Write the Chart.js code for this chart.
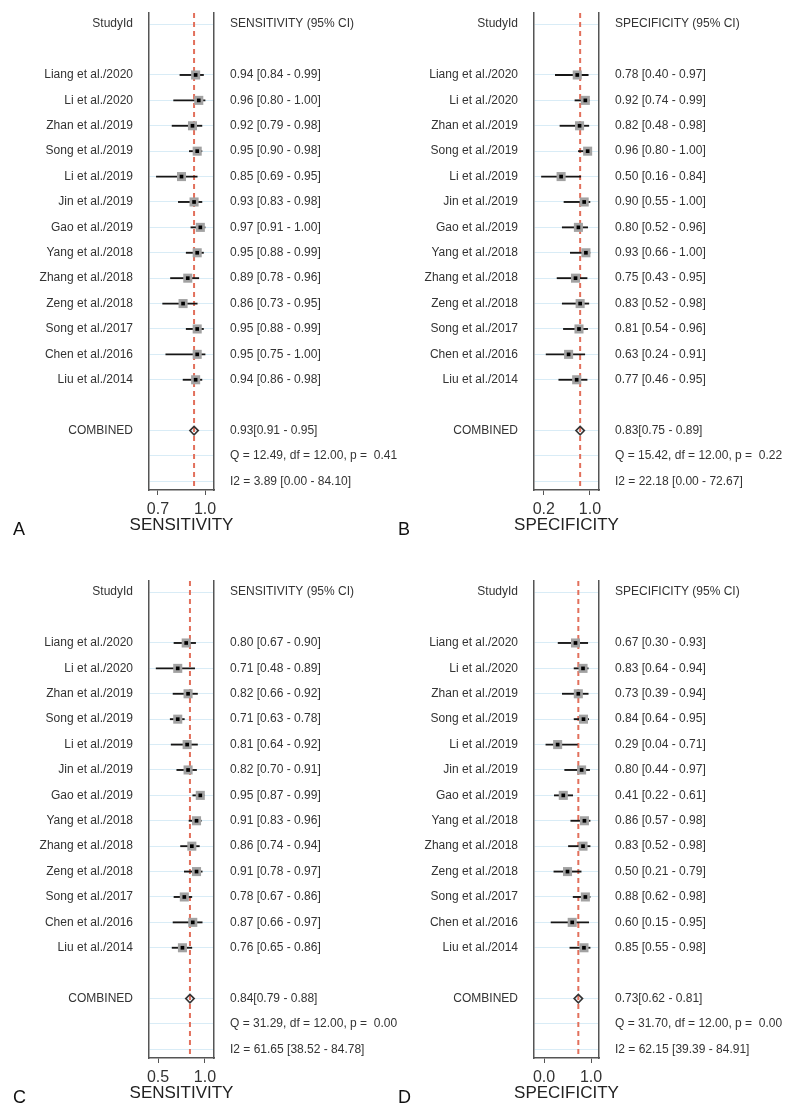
<!DOCTYPE html>
<html>
<head>
<meta charset="utf-8">
<script src="https://cdn.jsdelivr.net/npm/chart.js@4.4.0/dist/chart.umd.min.js"></script>
<style>
  html, body { margin: 0; padding: 0; background: #fff; overflow: hidden; }
  canvas { position: absolute; }
</style>
</head>
<body>
<canvas id="panelA" width="404" height="568" style="left:0;top:0"></canvas>
<canvas id="panelB" width="404" height="568" style="left:385px;top:0"></canvas>
<canvas id="panelC" width="404" height="568" style="left:0;top:568px"></canvas>
<canvas id="panelD" width="404" height="568" style="left:385px;top:568px"></canvas>
<script>
const studies = [
  "Liang et al./2020", "Li et al./2020", "Zhan et al./2019", "Song et al./2019",
  "Li et al./2019", "Jin et al./2019", "Gao et al./2019", "Yang et al./2018",
  "Zhang et al./2018", "Zeng et al./2018", "Song et al./2017", "Chen et al./2016",
  "Liu et al./2014"
];

// A: sensitivity
const estA = [0.94, 0.96, 0.92, 0.95, 0.85, 0.93, 0.97, 0.95, 0.89, 0.86, 0.95, 0.95, 0.94];
const loA  = [0.84, 0.80, 0.79, 0.90, 0.69, 0.83, 0.91, 0.88, 0.78, 0.73, 0.88, 0.75, 0.86];
const hiA  = [0.99, 1.00, 0.98, 0.98, 0.95, 0.98, 1.00, 0.99, 0.96, 0.95, 0.99, 1.00, 0.98];
const pooledA = [0.93, 0.91, 0.95];
const hetA = [12.49, 12.00, 0.41];
const i2A = [3.89, 0.00, 84.10];
const ticksA = [0.7, 1.0];
const rangeA = [0.643, 1.057];

// B: specificity
const estB = [0.78, 0.92, 0.82, 0.96, 0.50, 0.90, 0.80, 0.93, 0.75, 0.83, 0.81, 0.63, 0.77];
const loB  = [0.40, 0.74, 0.48, 0.80, 0.16, 0.55, 0.52, 0.66, 0.43, 0.52, 0.54, 0.24, 0.46];
const hiB  = [0.97, 0.99, 0.98, 1.00, 0.84, 1.00, 0.96, 1.00, 0.95, 0.98, 0.96, 0.91, 0.95];
const pooledB = [0.83, 0.75, 0.89];
const hetB = [15.42, 12.00, 0.22];
const i2B = [22.18, 0.00, 72.67];
const ticksB = [0.2, 1.0];
const rangeB = [0.03, 1.157];

// C: sensitivity
const estC = [0.80, 0.71, 0.82, 0.71, 0.81, 0.82, 0.95, 0.91, 0.86, 0.91, 0.78, 0.87, 0.76];
const loC  = [0.67, 0.48, 0.66, 0.63, 0.64, 0.70, 0.87, 0.83, 0.74, 0.78, 0.67, 0.66, 0.65];
const hiC  = [0.90, 0.89, 0.92, 0.78, 0.92, 0.91, 0.99, 0.96, 0.94, 0.97, 0.86, 0.97, 0.86];
const pooledC = [0.84, 0.79, 0.88];
const hetC = [31.29, 12.00, 0.00];
const i2C = [61.65, 38.52, 84.78];
const ticksC = [0.5, 1.0];
const rangeC = [0.404, 1.096];

// D: specificity
const estD = [0.67, 0.83, 0.73, 0.84, 0.29, 0.80, 0.41, 0.86, 0.83, 0.50, 0.88, 0.60, 0.85];
const loD  = [0.30, 0.64, 0.39, 0.64, 0.04, 0.44, 0.22, 0.57, 0.52, 0.21, 0.62, 0.15, 0.55];
const hiD  = [0.93, 0.94, 0.94, 0.95, 0.71, 0.97, 0.61, 0.98, 0.98, 0.79, 0.98, 0.95, 0.98];
const pooledD = [0.73, 0.62, 0.81];
const hetD = [31.70, 12.00, 0.00];
const i2D = [62.15, 39.39, 84.91];
const ticksD = [0.0, 1.0];
const rangeD = [-0.213, 1.17];

const FONT = 'Arial, "Liberation Sans", sans-serif';
Chart.defaults.font.family = FONT;
Chart.defaults.color = '#333';

const f2 = v => v.toFixed(2);

// dashed summary line, axis title and panel letter
const refLine = {
  id: 'refLine',
  beforeDatasetsDraw(chart, args, opts) {
    const { ctx, chartArea, scales } = chart;
    const px = scales.x.getPixelForValue(opts.value);
    ctx.save();
    ctx.strokeStyle = '#e2705c';
    ctx.lineWidth = 2;
    ctx.setLineDash([5, 4]);
    ctx.beginPath();
    ctx.moveTo(px, chartArea.top);
    ctx.lineTo(px, chartArea.bottom);
    ctx.stroke();
    ctx.restore();
  },
  afterDraw(chart, args, opts) {
    const { ctx, chartArea } = chart;
    ctx.save();
    ctx.fillStyle = '#222';
    ctx.textBaseline = 'middle';
    ctx.textAlign = 'center';
    ctx.font = '17px ' + FONT;
    ctx.fillText(opts.title, (chartArea.left + chartArea.right) / 2, chartArea.bottom + 35);
    ctx.textAlign = 'left';
    ctx.font = '18px ' + FONT;
    ctx.fillStyle = '#111';
    ctx.fillText(opts.letter, 13, 530);
    ctx.restore();
  }
};

function forest(id, letter, measure, est, lo, hi, pooled, het, i2, ticks, range) {
  const firstRow = 2;
  const pooledRow = firstRow + studies.length + 1;
  const leftLabels = ['StudyId', ''].concat(studies, ['', 'COMBINED', '', '']);
  const rightLabels = [measure + ' (95% CI)', '']
    .concat(est.map((v, i) => `${f2(v)} [${f2(lo[i])} - ${f2(hi[i])}]`))
    .concat(['',
      `${f2(pooled[0])}[${f2(pooled[1])} - ${f2(pooled[2])}]`,
      `Q = ${f2(het[0])}, df = ${f2(het[1])}, p =  ${f2(het[2])}`,
      `I2 = ${f2(i2[0])} [${f2(i2[1])} - ${f2(i2[2])}]`]);
  const rows = leftLabels.map((_, i) => i);
  const pts = est.map((v, i) => ({ x: v, y: firstRow + i }));

  const rowAxis = (labels, side, width) => ({
    type: 'linear', axis: 'y', position: side, reverse: true,
    min: -0.44, max: 18.34, offset: false,
    afterBuildTicks: s => { s.ticks = rows.map(r => ({ value: r })); },
    afterFit: s => { s.width = width; s.paddingTop = 0; s.paddingBottom = 0; },
    grid: {
      offset: false,
      drawTicks: false,
      drawOnChartArea: side === 'left',
      color: c => (c.tick && (leftLabels[c.tick.value] || rightLabels[c.tick.value])) ? '#d9ecf6' : 'rgba(0,0,0,0)'
    },
    border: { color: '#555', width: 1.5 },
    ticks: {
      autoSkip: false, padding: 16, color: '#333',
      font: { size: 12 },
      callback: v => labels[v] || ''
    }
  });

  new Chart(document.getElementById(id), {
    type: 'scatter',
    data: {
      datasets: [
        {
          type: 'bar', indexAxis: 'y', xAxisID: 'x', yAxisID: 'y',
          data: est.map((v, i) => ({ x: [lo[i], hi[i]], y: firstRow + i })),
          backgroundColor: '#151515', barThickness: 1.2, grouped: false, order: 3
        },
        {
          data: pts, pointStyle: 'rect', pointRadius: 6.4,
          backgroundColor: '#a2a2a2', borderWidth: 0, order: 2
        },
        {
          data: pts, pointStyle: 'rect', pointRadius: 2.6,
          backgroundColor: '#000', borderWidth: 0, order: 1
        },
        {
          data: [{ x: pooled[0], y: pooledRow }], pointStyle: 'rectRot', pointRadius: 4.2,
          backgroundColor: 'rgba(0,0,0,0)', borderColor: '#333', borderWidth: 1.6, order: 0
        }
      ]
    },
    options: {
      responsive: false,
      animation: false,
      events: [],
      layout: { padding: { top: 13, left: 0, right: 0, bottom: 0 } },
      plugins: {
        legend: { display: false },
        tooltip: { enabled: false },
        refLine: { value: pooled[0], letter: letter, title: measure }
      },
      scales: {
        x: {
          type: 'linear', min: range[0], max: range[1], offset: false,
          afterBuildTicks: s => { s.ticks = ticks.map(v => ({ value: v })); },
          afterFit: s => { s.height = 78; },
          grid: { drawOnChartArea: false, drawTicks: true, tickLength: 5, color: '#555' },
          border: { color: '#555', width: 1.5 },
          ticks: {
            autoSkip: false, maxRotation: 0, padding: 7, color: '#333',
            font: { size: 16, lineHeight: 1 },
            callback: v => v.toFixed(1)
          }
        },
        y: rowAxis(leftLabels, 'left', 149),
        y2: rowAxis(rightLabels, 'right', 190)
      }
    },
    plugins: [refLine]
  });
}

forest('panelA', 'A', 'SENSITIVITY', estA, loA, hiA, pooledA, hetA, i2A, ticksA, rangeA);
forest('panelB', 'B', 'SPECIFICITY', estB, loB, hiB, pooledB, hetB, i2B, ticksB, rangeB);
forest('panelC', 'C', 'SENSITIVITY', estC, loC, hiC, pooledC, hetC, i2C, ticksC, rangeC);
forest('panelD', 'D', 'SPECIFICITY', estD, loD, hiD, pooledD, hetD, i2D, ticksD, rangeD);
</script>
</body>
</html>
